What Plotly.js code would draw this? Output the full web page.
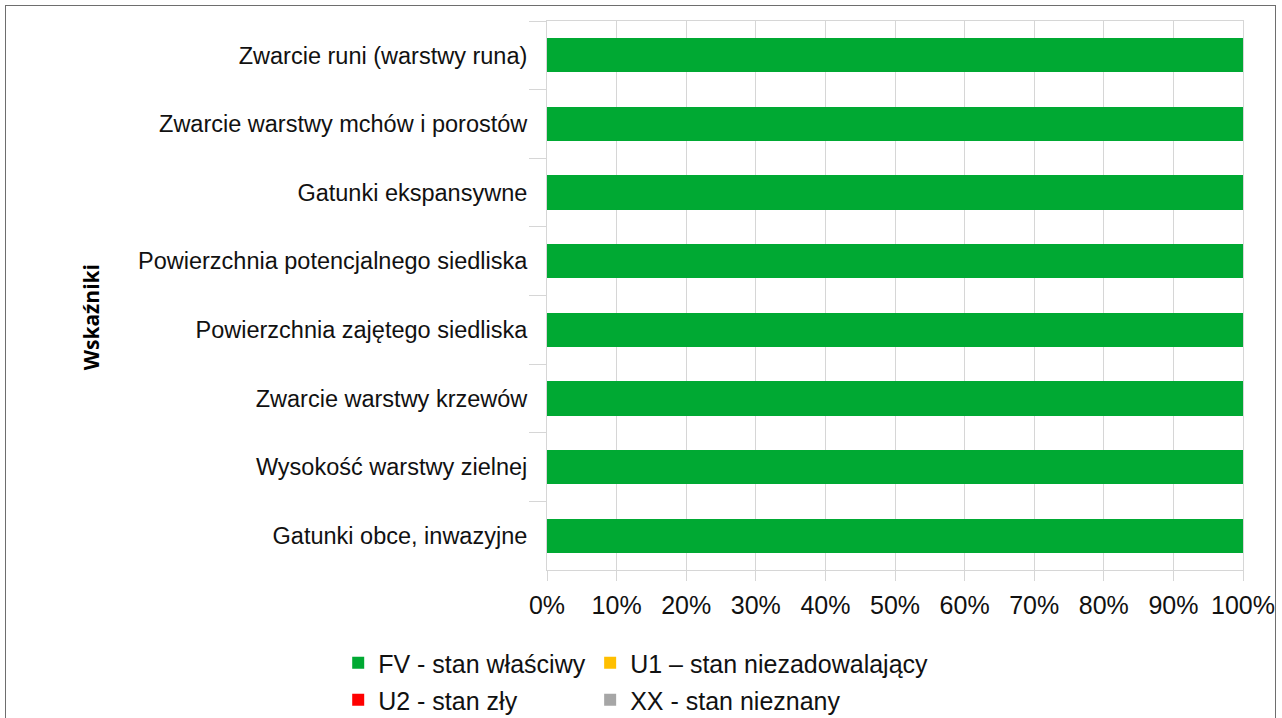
<!DOCTYPE html>
<html>
<head>
<meta charset="utf-8">
<script src="https://cdn.plot.ly/plotly-3.0.1.min.js"></script>
<style>
html,body{margin:0;padding:0;background:#fff;}
#wrap{position:relative;width:1282px;height:718px;overflow:hidden;}
#frame{position:absolute;left:5px;top:5px;width:1271px;height:730px;border:1.5px solid #6e6e6e;box-sizing:border-box;pointer-events:none;}
#chart{position:absolute;left:0;top:0;width:1282px;height:718px;}
</style>
</head>
<body>
<div id="wrap"><div id="chart"></div><div id="frame"></div></div>
<script>
const categories = [
  "Zwarcie runi (warstwy runa)",
  "Zwarcie warstwy mchów i porostów",
  "Gatunki ekspansywne",
  "Powierzchnia potencjalnego siedliska",
  "Powierzchnia zajętego siedliska",
  "Zwarcie warstwy krzewów",
  "Wysokość warstwy zielnej",
  "Gatunki obce, inwazyjne"
];
const fv = [100, 100, 100, 100, 100, 100, 100, 100];
const u1 = [0, 0, 0, 0, 0, 0, 0, 0];
const u2 = [0, 0, 0, 0, 0, 0, 0, 0];
const xx = [0, 0, 0, 0, 0, 0, 0, 0];
const seriesNames = ["FV - stan właściwy", "U1 – stan niezadowalający", "U2 - stan zły", "XX - stan nieznany"];
const seriesColors = ["#00a933", "#ffbf00", "#ff0000", "#a6a6a6"];
const xTickVals = [0, 10, 20, 30, 40, 50, 60, 70, 80, 90, 100];
const xTickText = ["0%", "10%", "20%", "30%", "40%", "50%", "60%", "70%", "80%", "90%", "100%"];
const yTitle = "Wskaźniki";

const seriesValues = [fv, u1, u2, xx];
const legendIds = ["legend", "legend2", "legend3", "legend4"];
const traces = seriesValues.map((vals, i) => ({
  type: "bar",
  orientation: "h",
  name: seriesNames[i],
  x: vals,
  y: categories,
  marker: {color: seriesColors[i], line: {width: 0}},
  width: 0.5,
  legend: legendIds[i],
  hoverinfo: "x+y+name"
}));

const font = "Liberation Sans, Arial, sans-serif";
const gridColor = "#d6d6d6";
function legendAt(x, y) {
  return {
    orientation: "h",
    xanchor: "left",
    yanchor: "middle",
    x: x, y: y, yref: "container",
    font: {family: font, size: 25, color: "#111"},
    bgcolor: "rgba(0,0,0,0)",
    borderwidth: 0,
    itemclick: false,
    itemdoubleclick: false
  };
}
const layout = {
  width: 1282,
  height: 718,
  margin: {l: 547, r: 39, t: 21, b: 148, autoexpand: false},
  paper_bgcolor: "rgba(0,0,0,0)",
  plot_bgcolor: "#ffffff",
  barmode: "stack",
  bargap: 0.5,
  showlegend: true,
  font: {family: font, color: "#111"},
  xaxis: {
    range: [0, 100],
    tickvals: xTickVals,
    ticktext: xTickText,
    showgrid: true,
    gridcolor: gridColor,
    gridwidth: 1,
    zeroline: false,
    showline: true,
    linecolor: gridColor,
    linewidth: 1,
    mirror: true,
    ticks: "outside",
    ticklen: 10,
    tickcolor: gridColor,
    ticklabelstandoff: 3,
    automargin: false,
    tickfont: {family: font, size: 25, color: "#111"},
    fixedrange: true
  },
  yaxis: {
    type: "category",
    autorange: "reversed",
    tickson: "boundaries",
    ticks: "outside",
    ticklen: 17,
    tickcolor: gridColor,
    ticklabelstandoff: 14,
    automargin: false,
    showgrid: false,
    showline: true,
    linecolor: gridColor,
    linewidth: 1,
    mirror: true,
    tickfont: {family: font, size: 23.5, color: "#111"},
    fixedrange: true
  },
  legend: legendAt(-0.3, 0.0766),
  legend2: legendAt(0.062, 0.0766),
  legend3: legendAt(-0.3, 0.025),
  legend4: legendAt(0.062, 0.025),
  annotations: [{
    text: "<b>" + yTitle + "</b>",
    textangle: -90,
    xref: "paper", yref: "paper",
    x: -0.656, y: 0.461,
    xanchor: "center", yanchor: "middle",
    showarrow: false,
    font: {family: "Open Sans, DejaVu Sans, sans-serif", size: 21, color: "#000"}
  }]
};
Plotly.newPlot("chart", traces, layout, {displayModeBar: false, staticPlot: true});
</script>
</body>
</html>
